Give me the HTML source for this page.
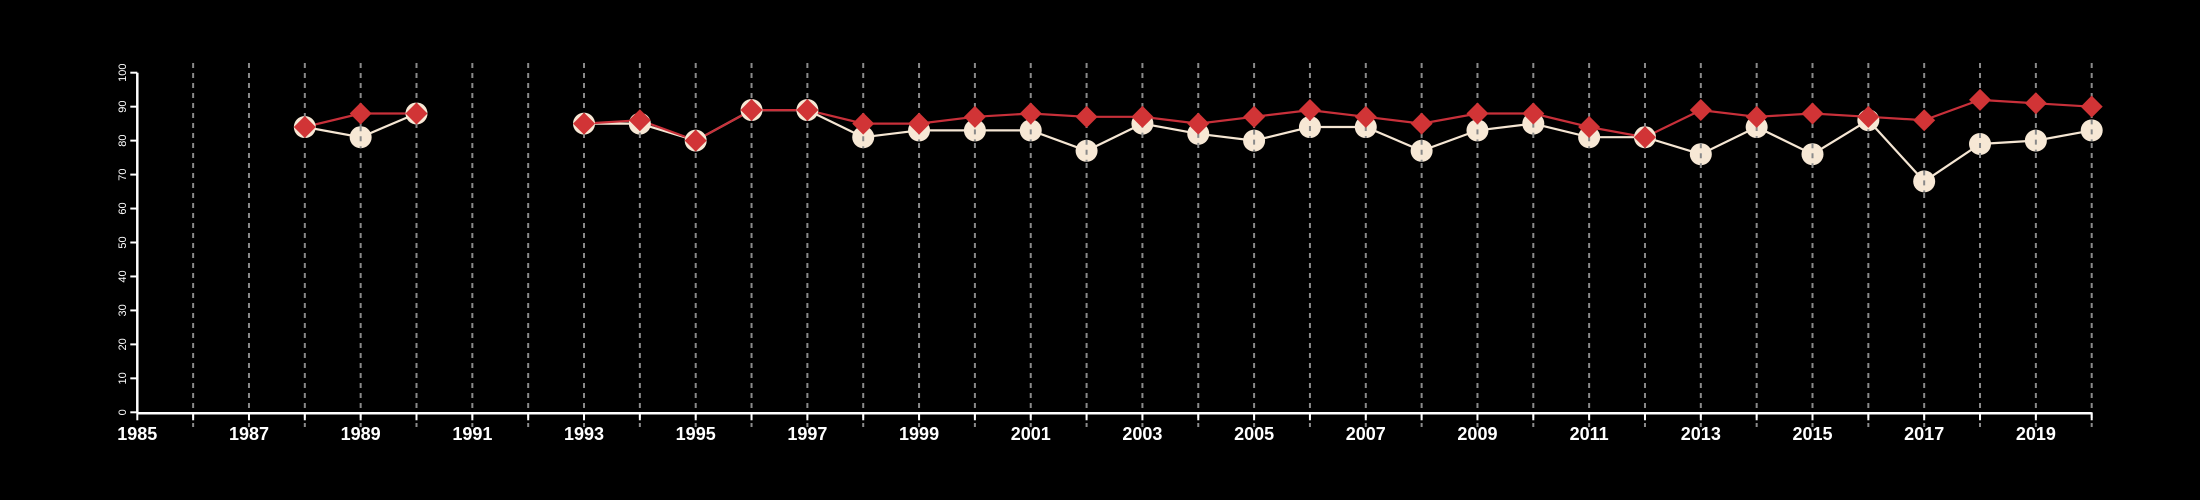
<!DOCTYPE html>
<html><head><meta charset="utf-8"><style>
html,body{margin:0;padding:0;background:#000;}
svg{display:block;}
text{font-family:"Liberation Sans",sans-serif;fill:#fff;}
</style></head><body>
<svg id="chart" width="2200" height="500" viewBox="0 0 2200 500" xmlns="http://www.w3.org/2000/svg">
<rect width="2200" height="500" fill="#000"/>
<g id="grid"></g>
<g id="axes"></g>
<g id="series"></g>
</svg>
<script>
const years = [1988,1989,1990,1991,1992,1993,1994,1995,1996,1997,1998,1999,2000,2001,2002,2003,2004,2005,2006,2007,2008,2009,2010,2011,2012,2013,2014,2015,2016,2017,2018,2019,2020];
const seriesCircle = [84,81,88,null,null,85,85,80,89,89,81,83,83,83,77,85,82,80,84,84,77,83,85,81,81,76,84,76,86,68,79,80,83];
const seriesDiamond = [84,88,88,null,null,85,86,80,89,89,85,85,87,88,87,87,85,87,89,87,85,88,88,84,81,89,87,88,87,86,92,91,90];
const yTicks = [0,10,20,30,40,50,60,70,80,90,100];
const xLabels = [1985,1987,1989,1991,1993,1995,1997,1999,2001,2003,2005,2007,2009,2011,2013,2015,2017,2019];

const NS="http://www.w3.org/2000/svg";
const x0=137.3, xPer=55.84, y0=412.3, yPer=3.396;
const X=v=>x0+(v-1985)*xPer;
const Y=v=>y0-v*yPer;
function mk(tag,attrs,parent){const e=document.createElementNS(NS,tag);for(const k in attrs)e.setAttribute(k,attrs[k]);parent.appendChild(e);return e;}
const grid=document.getElementById('grid'),axes=document.getElementById('axes'),ser=document.getElementById('series');

for(let yr=1986;yr<=2020;yr++){
  const l=mk('line',{x1:X(yr),x2:X(yr),y1:63,y2:427,stroke:'#8a8a8a','stroke-width':2,'stroke-dasharray':'5,5'},grid);
  
  
}
const ya=mk('line',{x1:x0,x2:x0,y1:Y(100),y2:Y(0),stroke:'#fff','stroke-width':2.5},axes);


yTicks.forEach(t=>{
  const tk=mk('line',{x1:x0-7,x2:x0,y1:Y(t),y2:Y(t),stroke:'#fff','stroke-width':2},axes);
  
  
  const tx=mk('text',{x:0,y:0,'font-size':11,'text-anchor':'middle',transform:`translate(${x0-14},${Y(t)}) rotate(-90)`,'dominant-baseline':'middle'},axes);
  tx.textContent=t;
  
  
});
const xa=mk('line',{x1:x0,x2:X(2020),y1:y0+1,y2:y0+1,stroke:'#fff','stroke-width':2.5},axes);


for(let yr=1985;yr<=2020;yr++){
  const tk=mk('line',{x1:X(yr),x2:X(yr),y1:y0,y2:y0+8,stroke:'#fff','stroke-width':2},axes);
  
  
}
xLabels.forEach(yr=>{
  const tx=mk('text',{x:X(yr),y:440,'font-size':18,'font-weight':'bold','text-anchor':'middle'},axes);
  tx.textContent=yr;
  
  
});

function pathFor(vals){
  let d='',pen=false;
  vals.forEach((v,i)=>{ if(v==null){pen=false;return;} d+=(pen?'L':'M')+X(years[i]).toFixed(1)+','+Y(v).toFixed(1); pen=true;});
  return d;
}
const lc=mk('path',{d:pathFor(seriesCircle),fill:'none',stroke:'#f5e6d3','stroke-width':2.2},ser);


const ld=mk('path',{d:pathFor(seriesDiamond),fill:'none',stroke:'#c8303a','stroke-width':2.2},ser);


seriesCircle.forEach((v,i)=>{ if(v==null)return;
  const c=mk('circle',{cx:X(years[i]),cy:Y(v),r:11,fill:'#f7e8d5'},ser);
  
  
  const g=mk('line',{x1:X(years[i]),x2:X(years[i]),y1:Y(v)-11,y2:Y(v)+11,stroke:'#8a8a8a','stroke-width':2,'stroke-dasharray':'5,5'},ser);
  
  
});
seriesDiamond.forEach((v,i)=>{ if(v==null)return;
  const cx=X(years[i]),cy=Y(v),s=11;
  const p=mk('polygon',{points:`${cx},${cy-s} ${cx+s},${cy} ${cx},${cy+s} ${cx-s},${cy}`,fill:'#d13436'},ser);
  
  
});
</script>
</body></html>
